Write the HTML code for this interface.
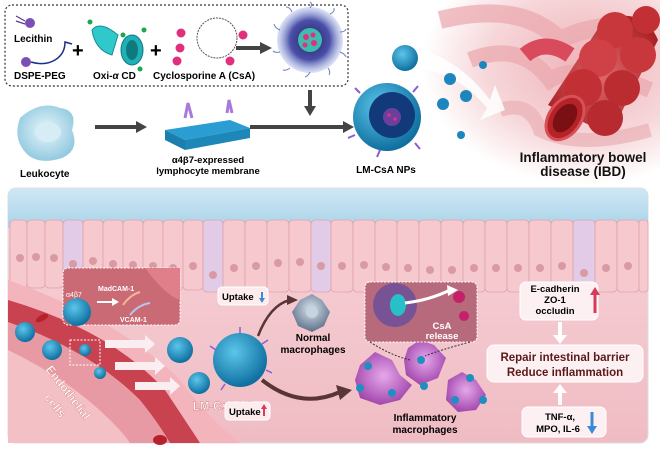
<!DOCTYPE html>
<html><head><meta charset="utf-8"><style>
html,body{margin:0;padding:0;background:#fff;}
svg{display:block;font-family:"Liberation Sans",sans-serif;}
</style></head><body>
<svg width="660" height="451" viewBox="0 0 660 451" xmlns="http://www.w3.org/2000/svg">
<defs>
<radialGradient id="np" cx="40%" cy="35%" r="65%"><stop offset="0" stop-color="#5cc6ea"/><stop offset="1" stop-color="#0f6fa0"/></radialGradient>
<radialGradient id="leu" cx="50%" cy="45%" r="60%"><stop offset="0" stop-color="#e8f6fb"/><stop offset="1" stop-color="#8cc6de"/></radialGradient>
<radialGradient id="mac" cx="50%" cy="45%" r="60%"><stop offset="0" stop-color="#e6a8ea"/><stop offset="1" stop-color="#9c3fa8"/></radialGradient>
<radialGradient id="gmac" cx="50%" cy="40%" r="60%"><stop offset="0" stop-color="#d8e2ec"/><stop offset="1" stop-color="#5c7088"/></radialGradient>
<linearGradient id="tissue" x1="0" y1="0" x2="0" y2="1"><stop offset="0" stop-color="#f7d3d8"/><stop offset="1" stop-color="#f0bcc4"/></linearGradient>
<linearGradient id="sky" x1="0" y1="0" x2="0" y2="1"><stop offset="0" stop-color="#cfe7f3"/><stop offset="1" stop-color="#a9d3ea"/></linearGradient>
<radialGradient id="gut" cx="50%" cy="50%" r="60%"><stop offset="0" stop-color="#e0686a"/><stop offset="1" stop-color="#a51d22"/></radialGradient>
<radialGradient id="bg" cx="70%" cy="35%" r="65%"><stop offset="0" stop-color="#eeb3b9"/><stop offset="0.6" stop-color="#f6d6d9"/><stop offset="1" stop-color="#fff"/></radialGradient>
<radialGradient id="mic" cx="50%" cy="50%" r="50%"><stop offset="0" stop-color="#2a2060"/><stop offset=".6" stop-color="#4a4fa8"/><stop offset="1" stop-color="#8fa0dc" stop-opacity=".3"/></radialGradient>
</defs>

<!-- top right intestine background -->
<rect x="410" y="0" width="250" height="185" fill="url(#bg)"/>
<path d="M440 20 Q520 0 560 40 Q600 20 640 30" stroke="#e9a7ad" stroke-width="18" fill="none" opacity=".7"/>
<path d="M470 60 Q520 40 550 80 Q580 60 650 90" stroke="#e9a7ad" stroke-width="16" fill="none" opacity=".7"/>
<path d="M500 110 Q530 100 540 130 Q580 150 650 130" stroke="#eab0b5" stroke-width="14" fill="none" opacity=".7"/>
<path d="M525 55 Q545 38 570 55" stroke="#d94a5c" stroke-width="16" fill="none"/>
<path d="M548 105 L605 18 Q645 8 658 40 L610 135 Z" fill="url(#gut)"/>
<circle cx="615" cy="30" r="18" fill="#c8373c"/><circle cx="598" cy="58" r="19" fill="#cf4146"/><circle cx="583" cy="88" r="19" fill="#c23035"/><circle cx="638" cy="55" r="18" fill="#c8373c"/><circle cx="622" cy="88" r="18" fill="#bb2c31"/><circle cx="605" cy="118" r="18" fill="#b72a2f"/><circle cx="646" cy="20" r="14" fill="#c23035"/>
<ellipse cx="565" cy="118" rx="16" ry="24" transform="rotate(35 565 118)" fill="#b52328" stroke="#d75055" stroke-width="3"/>
<ellipse cx="565" cy="118" rx="10" ry="16" transform="rotate(35 565 118)" fill="#7a1014"/>
<!-- big white arrow -->
<path d="M420 50 Q460 60 490 100 L495 85 L505 110 L480 120 L487 108 Q460 75 420 68 Z" fill="#fff" opacity=".85"/>
<text x="583" y="162" font-size="13.5" font-weight="bold" text-anchor="middle" fill="#111">Inflammatory bowel</text>
<text x="583" y="176" font-size="13.5" font-weight="bold" text-anchor="middle" fill="#111">disease (IBD)</text>

<!-- dashed box -->
<rect x="5" y="5" width="343" height="81" rx="7" fill="#fff" stroke="#333" stroke-width="1.2" stroke-dasharray="2,2"/>
<circle cx="30" cy="23" r="5" fill="#7d4fb5"/><path d="M25 21 L16 16 M25 24 L16 21" stroke="#5a3a90" stroke-width="1.2"/>
<text x="14" y="42" font-size="10" font-weight="bold">Lecithin</text>
<circle cx="26" cy="62" r="5" fill="#7d4fb5"/><path d="M31 62 Q45 66 55 60 T65 42 L72 44" stroke="#1a2f8a" stroke-width="1.5" fill="none"/>
<text x="14" y="79" font-size="10" font-weight="bold">DSPE-PEG</text>
<text x="72" y="57" font-size="20" font-weight="bold">+</text>
<path d="M92 30 Q100 20 118 35 L112 55 Q95 50 92 30Z" fill="#2fc9cc" stroke="#178e95"/>
<ellipse cx="132" cy="50" rx="11" ry="15" fill="#1fb1b6" stroke="#0f7a80"/><ellipse cx="132" cy="50" rx="6" ry="10" fill="#0e7a80"/>
<circle cx="90" cy="22" r="2.5" fill="#1aa84d"/><circle cx="123" cy="35" r="2.5" fill="#1aa84d"/><circle cx="144" cy="30" r="2.5" fill="#1aa84d"/><circle cx="140" cy="69" r="2.5" fill="#1aa84d"/>
<text x="93" y="79" font-size="10" font-weight="bold">Oxi-<tspan font-style="italic">α</tspan> CD</text>
<text x="150" y="57" font-size="20" font-weight="bold">+</text>
<circle cx="217" cy="38" r="20" fill="#fff" stroke="#555" stroke-width="1" stroke-dasharray="2,1"/>
<circle cx="181" cy="33" r="4.5" fill="#e0307d"/><circle cx="180" cy="48" r="4.5" fill="#e0307d"/><circle cx="177" cy="61" r="4.5" fill="#e0307d"/><circle cx="243" cy="35" r="4.5" fill="#e0307d"/><circle cx="230" cy="61" r="4.5" fill="#e0307d"/>
<text x="153" y="79" font-size="10" font-weight="bold">Cyclosporine A (CsA)</text>
<path d="M236 48 L262 48" stroke="#444" stroke-width="4"/><path d="M260 42 L272 48 L260 54Z" fill="#444"/>
<circle cx="310" cy="40" r="33" fill="url(#mic)"/>
<g stroke="#4a5cb5" stroke-width="1" fill="none" opacity=".8">
<path d="M310 8 q3 -4 0 -6 M330 14 q5 -2 4 -6 M340 32 q5 0 6 -3 M340 52 q5 2 6 5 M328 68 q3 4 1 7 M310 72 q-2 4 -5 5 M290 68 q-4 3 -7 2 M280 52 q-5 1 -7 -1 M280 30 q-5 -2 -6 -6 M292 12 q-2 -5 -6 -5"/>
</g>
<circle cx="310" cy="40" r="12" fill="#3fbcb0"/>
<circle cx="306" cy="37" r="3" fill="#e0307d"/><circle cx="314" cy="43" r="3" fill="#e0307d"/><circle cx="313" cy="35" r="2.5" fill="#e0307d"/><circle cx="305" cy="45" r="2.5" fill="#e0307d"/>
<path d="M310 90 L310 108" stroke="#444" stroke-width="4"/><path d="M304 106 L310 116 L316 106Z" fill="#444"/>

<!-- leukocyte row -->
<path d="M20 118 Q40 100 60 108 Q78 110 72 130 Q80 150 62 158 Q40 165 28 155 Q12 140 20 118Z" fill="url(#leu)"/>
<ellipse cx="48" cy="132" rx="13" ry="10" fill="#d6edf6"/>
<text x="20" y="177" font-size="10" font-weight="bold">Leukocyte</text>
<path d="M95 127 L138 127" stroke="#444" stroke-width="4"/><path d="M136 121 L147 127 L136 133Z" fill="#444"/>
<path d="M165 130 L230 120 L250 128 L185 140Z" fill="#2a9ed3"/><path d="M165 130 L185 140 L185 150 L165 140Z" fill="#1b7eac"/><path d="M185 140 L250 128 L250 138 L185 150Z" fill="#1d87b8"/>
<path d="M185 118 L188 103 L192 118" stroke="#a77adc" stroke-width="3" fill="none"/><path d="M227 113 L229 100 L232 113" stroke="#a77adc" stroke-width="3" fill="none"/>
<text x="208" y="163" font-size="9.5" font-weight="bold" text-anchor="middle">α4β7-expressed</text>
<text x="208" y="174" font-size="9.5" font-weight="bold" text-anchor="middle">lymphocyte membrane</text>
<path d="M250 127 L345 127" stroke="#444" stroke-width="4"/><path d="M343 121 L354 127 L343 133Z" fill="#444"/>
<circle cx="387" cy="117" r="34" fill="url(#np)"/><circle cx="392" cy="115" r="23" fill="#123a7a"/><circle cx="392" cy="117" r="9" fill="#6b3f9e"/>
<circle cx="389" cy="115" r="1.8" fill="#e0307d"/><circle cx="395" cy="119" r="1.8" fill="#e0307d"/>
<g stroke="#8a5dd0" stroke-width="2"><path d="M360 93 l-5 -5"/><path d="M413 92 l5 -6"/><path d="M355 135 l-7 3"/><path d="M415 143 l5 6"/><path d="M380 150 l-3 7"/></g>
<text x="386" y="173" font-size="10" font-weight="bold" text-anchor="middle">LM-CsA NPs</text>
<circle cx="405" cy="58" r="13" fill="url(#np)"/>
<circle cx="483" cy="65" r="4" fill="#1c86bd"/><circle cx="450" cy="79" r="6" fill="#1c86bd"/><circle cx="466" cy="96" r="6" fill="#1c86bd"/><circle cx="443" cy="104" r="6" fill="#1c86bd"/><circle cx="461" cy="135" r="4" fill="#1c86bd"/>

<!-- bottom panel -->
<rect x="8" y="188" width="640" height="255" rx="8" fill="url(#tissue)" stroke="#ddd"/>
<path d="M8 196 Q8 188 16 188 L640 188 Q648 188 648 196 L648 228 L8 228Z" fill="url(#sky)"/>
<g fill="#f6c9cf" stroke="#e1a2ab" stroke-width=".8">
<rect x="10" y="220" width="17" height="68" rx="4"/><rect x="27" y="220" width="18" height="68" rx="4"/><rect x="45" y="220" width="18" height="68" rx="4"/>
<rect x="63" y="220" width="20" height="70" rx="4" fill="#e2cbe6"/><rect x="83" y="220" width="20" height="70" rx="4"/><rect x="103" y="220" width="20" height="70" rx="4"/><rect x="123" y="220" width="20" height="70" rx="4"/><rect x="143" y="220" width="20" height="70" rx="4"/><rect x="163" y="220" width="20" height="70" rx="4"/><rect x="183" y="220" width="20" height="70" rx="4"/>
<rect x="203" y="220" width="20" height="72" rx="4" fill="#e2cbe6"/><rect x="223" y="220" width="22" height="72" rx="4"/><rect x="245" y="220" width="22" height="72" rx="4"/><rect x="267" y="220" width="22" height="72" rx="4"/><rect x="289" y="220" width="22" height="72" rx="4"/>
<rect x="311" y="220" width="20" height="72" rx="4" fill="#e2cbe6"/><rect x="331" y="220" width="22" height="72" rx="4"/><rect x="353" y="220" width="22" height="72" rx="4"/><rect x="375" y="220" width="22" height="72" rx="4"/><rect x="397" y="220" width="22" height="72" rx="4"/><rect x="419" y="220" width="22" height="72" rx="4"/><rect x="441" y="220" width="22" height="72" rx="4"/><rect x="463" y="220" width="22" height="72" rx="4"/><rect x="485" y="220" width="22" height="72" rx="4"/><rect x="507" y="220" width="22" height="72" rx="4"/><rect x="529" y="220" width="22" height="72" rx="4"/><rect x="551" y="220" width="22" height="72" rx="4"/>
<rect x="573" y="220" width="22" height="72" rx="4" fill="#e2cbe6"/><rect x="595" y="220" width="22" height="72" rx="4"/><rect x="617" y="220" width="22" height="72" rx="4"/><rect x="639" y="220" width="9" height="72" rx="3"/>
</g>
<g fill="#d99aa3">
<circle cx="20" cy="258" r="4"/><circle cx="36" cy="257" r="4"/><circle cx="54" cy="258" r="4"/><circle cx="73" cy="264" r="4"/><circle cx="93" cy="261" r="4"/><circle cx="113" cy="264" r="4"/><circle cx="133" cy="265" r="4"/><circle cx="153" cy="266" r="4"/><circle cx="173" cy="268" r="4"/><circle cx="193" cy="266" r="4"/><circle cx="213" cy="275" r="4"/><circle cx="234" cy="268" r="4"/><circle cx="256" cy="266" r="4"/><circle cx="278" cy="263" r="4"/><circle cx="300" cy="262" r="4"/><circle cx="321" cy="266" r="4"/><circle cx="342" cy="266" r="4"/><circle cx="364" cy="265" r="4"/><circle cx="386" cy="267" r="4"/><circle cx="408" cy="268" r="4"/><circle cx="430" cy="270" r="4"/><circle cx="452" cy="270" r="4"/><circle cx="474" cy="268" r="4"/><circle cx="496" cy="268" r="4"/><circle cx="518" cy="268" r="4"/><circle cx="540" cy="268" r="4"/><circle cx="562" cy="266" r="4"/><circle cx="584" cy="273" r="4"/><circle cx="606" cy="268" r="4"/><circle cx="628" cy="266" r="4"/>
</g>

<!-- vessel -->
<path d="M8 280 Q120 320 180 380 Q210 420 240 443 L8 443Z" fill="#f3b4bc"/>
<path d="M8 300 Q110 330 165 390 Q185 420 200 443 L8 443Z" fill="#c9424f"/>
<path d="M8 322 Q90 350 140 400 Q160 425 170 443 L8 443Z" fill="#e79aa4"/>
<path d="M8 350 Q70 380 110 420 Q125 435 130 443 L8 443Z" fill="#f3c0c6"/>
<circle cx="25" cy="332" r="10" fill="url(#np)"/><circle cx="52" cy="350" r="10" fill="url(#np)"/><circle cx="85" cy="350" r="6" fill="url(#np)"/><circle cx="100" cy="373" r="6" fill="url(#np)"/>
<ellipse cx="42" cy="318" rx="7" ry="3" fill="#b5222c" transform="rotate(-30 42 318)"/><ellipse cx="160" cy="440" rx="7" ry="5" fill="#b5222c"/>
<rect x="70" y="340" width="30" height="25" fill="none" stroke="#fff" stroke-dasharray="2,1.5"/>
<text x="65" y="395" font-size="12" font-weight="bold" fill="#fff" transform="rotate(52 65 395)" text-anchor="middle" stroke="#d88" stroke-width=".4">Endothelial</text>
<text x="52" y="408" font-size="12" font-weight="bold" fill="#fff" transform="rotate(52 52 408)" text-anchor="middle" stroke="#d88" stroke-width=".4">cells</text>

<!-- inset -->
<rect x="63" y="268" width="117" height="57" rx="5" fill="#c96a74" stroke="#fff" stroke-dasharray="2,1.5"/>
<path d="M145 268 Q165 295 180 300 L180 268Z" fill="#e07f8a"/>
<circle cx="77" cy="312" r="14" fill="url(#np)"/>
<text x="66" y="297" font-size="7" fill="#fff">α4β7</text>
<text x="98" y="291" font-size="7" fill="#fff" font-weight="bold">MadCAM-1</text>
<text x="120" y="322" font-size="7" fill="#fff" font-weight="bold">VCAM-1</text>
<path d="M97 302 L113 302" stroke="#fff" stroke-width="2"/><path d="M112 298 L119 302 L112 306Z" fill="#fff"/>
<path d="M123 305 Q130 295 140 292" stroke="#f1b79b" stroke-width="2" fill="none"/><path d="M130 315 Q138 305 150 303" stroke="#b9c3ee" stroke-width="2" fill="none"/>

<!-- white arrows -->
<g fill="#fbeef0"><path d="M105 340 L145 340 L145 335 L155 344 L145 353 L145 348 L105 348Z"/><path d="M115 362 L155 362 L155 357 L165 366 L155 375 L155 370 L115 370Z"/><path d="M135 382 L170 382 L170 377 L180 386 L170 395 L170 390 L135 390Z"/></g>
<circle cx="180" cy="350" r="13" fill="url(#np)"/><circle cx="199" cy="383" r="11" fill="url(#np)"/>
<circle cx="240" cy="360" r="27" fill="url(#np)"/>
<g stroke="#8a5dd0" stroke-width="1.5"><path d="M240 333 L240 327"/><path d="M262 344 L268 340"/><path d="M266 370 L272 373"/><path d="M225 384 L221 390"/><path d="M216 350 L210 346"/></g>
<text x="227" y="410" font-size="11.5" font-weight="bold" fill="#fff" text-anchor="middle" stroke="#c77" stroke-width=".4">LM-CsA NPs</text>
<path d="M258 336 Q270 305 290 300" stroke="#5a3535" stroke-width="2.5" fill="none"/><path d="M287 295 L298 300 L287 305Z" fill="#5a3535"/>
<path d="M262 380 Q300 410 340 392" stroke="#5a3535" stroke-width="4" fill="none"/><path d="M336 385 L352 390 L340 400Z" fill="#5a3535"/>

<rect x="218" y="287" width="50" height="18" rx="4" fill="#fcecee" stroke="#fff"/>
<text x="222" y="300" font-size="9.5" font-weight="bold">Uptake</text><path d="M262 292 L262 301" stroke="#3a8ad6" stroke-width="2"/><path d="M259 298 L262 303 L265 298Z" fill="#3a8ad6"/>
<path d="M300 300 L312 294 L322 300 L330 312 L324 326 L312 332 L298 326 L292 312Z" fill="url(#gmac)"/><circle cx="312" cy="312" r="6" fill="#c7d3df"/>
<text x="313" y="341" font-size="10" font-weight="bold" text-anchor="middle">Normal</text>
<text x="313" y="353" font-size="10" font-weight="bold" text-anchor="middle">macrophages</text>

<rect x="225" y="402" width="45" height="18" rx="4" fill="#fcecee" stroke="#fff"/>
<text x="229" y="415" font-size="9.5" font-weight="bold">Uptake</text><path d="M264 416 L264 407" stroke="#d93a5a" stroke-width="2"/><path d="M261 409 L264 404 L267 409Z" fill="#d93a5a"/>

<!-- inflammatory macrophages -->
<path d="M360 365 L375 352 L392 360 L400 375 L412 385 L400 400 L380 405 L360 398 L355 380Z" fill="url(#mac)"/>
<path d="M408 348 L420 340 L434 345 L446 358 L438 378 L420 385 L406 375 L404 360Z" fill="url(#mac)"/>
<path d="M448 380 L462 372 L476 380 L486 395 L476 410 L458 412 L446 400Z" fill="url(#mac)"/>
<g fill="#1f8fc0"><circle cx="368" cy="366" r="4"/><circle cx="360" cy="388" r="4"/><circle cx="392" cy="393" r="4"/><circle cx="421" cy="360" r="4"/><circle cx="424" cy="386" r="4"/><circle cx="470" cy="378" r="4"/><circle cx="455" cy="400" r="4"/><circle cx="483" cy="400" r="4"/></g>
<text x="425" y="421" font-size="10" font-weight="bold" text-anchor="middle">Inflammatory</text>
<text x="425" y="433" font-size="10" font-weight="bold" text-anchor="middle">macrophages</text>

<rect x="365" y="282" width="112" height="60" rx="5" fill="#b86a7d" stroke="#fff" stroke-dasharray="2,1.5"/>
<circle cx="395" cy="305" r="22" fill="#5b4aa0" opacity=".7"/><ellipse cx="398" cy="305" rx="8" ry="11" fill="#27c0c6"/>
<path d="M405 303 Q430 300 450 290" stroke="#fff" stroke-width="3" fill="none"/><path d="M447 285 L458 290 L448 296Z" fill="#fff"/>
<circle cx="459" cy="297" r="6" fill="#c3216a"/><circle cx="464" cy="316" r="5" fill="#c3216a"/>
<text x="442" y="329" font-size="9.5" font-weight="bold" fill="#fff" text-anchor="middle">CsA</text>
<text x="442" y="339" font-size="9.5" font-weight="bold" fill="#fff" text-anchor="middle">release</text>
<path d="M370 342 Q390 355 410 360 M470 342 Q440 350 425 356" stroke="#333" stroke-dasharray="2,1.5" fill="none"/>

<!-- right boxes -->
<rect x="520" y="282" width="78" height="38" rx="6" fill="#fdf0f2" stroke="#fff"/>
<text x="555" y="292" font-size="9.5" font-weight="bold" text-anchor="middle">E-cadherin</text>
<text x="555" y="303" font-size="9.5" font-weight="bold" text-anchor="middle">ZO-1</text>
<text x="555" y="314" font-size="9.5" font-weight="bold" text-anchor="middle">occludin</text>
<path d="M595 313 L595 293" stroke="#d93a5a" stroke-width="3"/><path d="M590 295 L595 287 L600 295Z" fill="#d93a5a"/>
<path d="M560 322 L560 337" stroke="#fff" stroke-width="4"/><path d="M553 335 L560 344 L567 335Z" fill="#fff"/>
<rect x="487" y="345" width="156" height="37" rx="7" fill="#fdf0f2" stroke="#fff"/>
<text x="565" y="361" font-size="11.5" font-weight="bold" text-anchor="middle" fill="#5b1a1a">Repair intestinal barrier</text>
<text x="565" y="376" font-size="11.5" font-weight="bold" text-anchor="middle" fill="#5b1a1a">Reduce inflammation</text>
<path d="M560 405 L560 392" stroke="#fff" stroke-width="4"/><path d="M553 393 L560 384 L567 393Z" fill="#fff"/>
<rect x="522" y="407" width="84" height="30" rx="6" fill="#fdf0f2" stroke="#fff"/>
<text x="560" y="420" font-size="9.5" font-weight="bold" text-anchor="middle">TNF-α,</text>
<text x="558" y="432" font-size="9.5" font-weight="bold" text-anchor="middle">MPO, IL-6</text>
<path d="M592 412 L592 428" stroke="#3a8ad6" stroke-width="3"/><path d="M587 426 L592 434 L597 426Z" fill="#3a8ad6"/>
</svg>
</body></html>
